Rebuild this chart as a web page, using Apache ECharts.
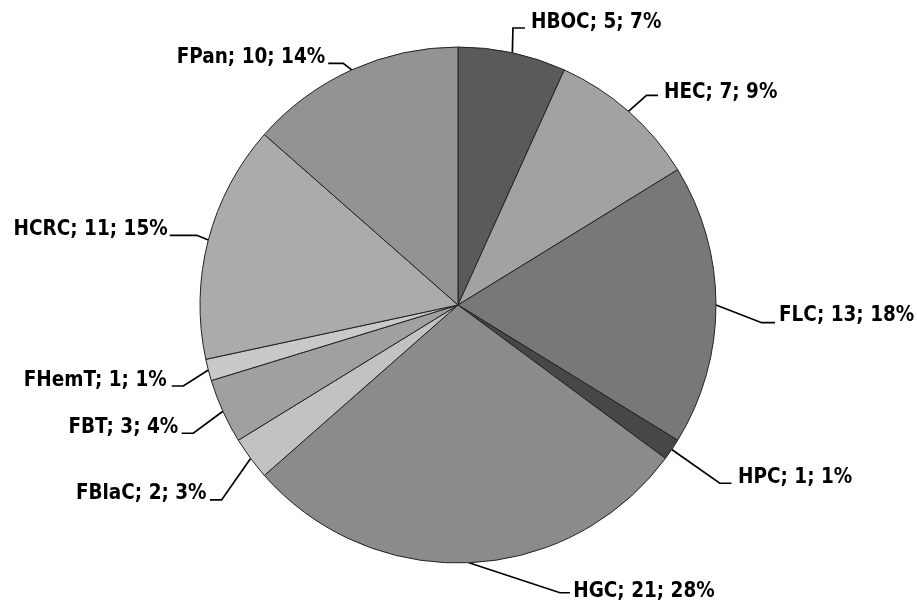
<!DOCTYPE html>
<html><head><meta charset="utf-8">
<script src="https://cdn.jsdelivr.net/npm/echarts@6/dist/echarts.min.js"></script>
<style>html,body{margin:0;padding:0;background:#fff}#c{width:917px;height:602px}</style>
</head><body><div id="c"></div>
<script>
// data
const categories = ['HBOC','HEC','FLC','HPC','HGC','FBlaC','FBT','FHemT','HCRC','FPan'];
const counts = [5,7,13,1,21,2,3,1,11,10];
const percents = [7,9,18,1,28,3,4,1,15,14];

// styles
const colors = ['#5a5a5a','#a2a2a2','#787878','#474747','#8b8b8b','#c2c2c2','#a0a0a0','#c9c9c9','#ababab','#939393'];
// leader-line shape: bend offset from slice edge, horizontal tail, gap to text, text vertical shift
const bendDx = [0.6, 18, 45.7, 48, 91, -29, -29.6, -25, -11.6, -8.5];
const bendDy = [-24.8, -16, 17.7, 33.8, 30, 41.5, 22, 16, -4.7, -6.6];
const tail   = [12, 11.6, 13.3, 11.7, 10, -11.7, -11.6, -11.6, -27, -15];
const gap    = [6, 6, 4, 6.6, 3.3, 3.3, 3.4, 5, 2, 3];
const textDy = [-5, -3, -7, -6, -1, -6, -6, -5, -6, -6];

const chart = echarts.init(document.getElementById('c'));
chart.setOption({
  animation:false,
  series:[{
    type:'pie',
    center:[458,305],
    radius:258,
    startAngle:90,
    clockwise:true,
    avoidLabelOverlap:false,
    itemStyle:{borderColor:'#222',borderWidth:1},
    label:{
      show:true,
      formatter:p=>p.name+'; '+counts[p.dataIndex]+'; '+percents[p.dataIndex]+'%',
      fontFamily:'DejaVu Sans Condensed',
      fontWeight:'bold',
      fontSize:20.5,
      color:'#000'
    },
    labelLine:{show:true,length:20,length2:12,lineStyle:{color:'#000',width:1.7}},
    labelLayout:function(p){
      const i = p.dataIndex;
      const pts = p.labelLinePoints;
      if(!pts) return {};
      const E = pts[0];
      const B = [E[0]+bendDx[i], E[1]+bendDy[i]];
      const C = [B[0]+tail[i], B[1]];
      const right = tail[i] > 0;
      return {
        x: C[0] + (right ? gap[i] : -gap[i]),
        y: C[1] + textDy[i],
        align: right ? 'left' : 'right',
        verticalAlign: 'middle',
        labelLinePoints: [E, B, C]
      };
    },
    emphasis:{disabled:true},
    data:categories.map((n,i)=>({name:n,value:counts[i],itemStyle:{color:colors[i]}}))
  }]
});
</script></body></html>
